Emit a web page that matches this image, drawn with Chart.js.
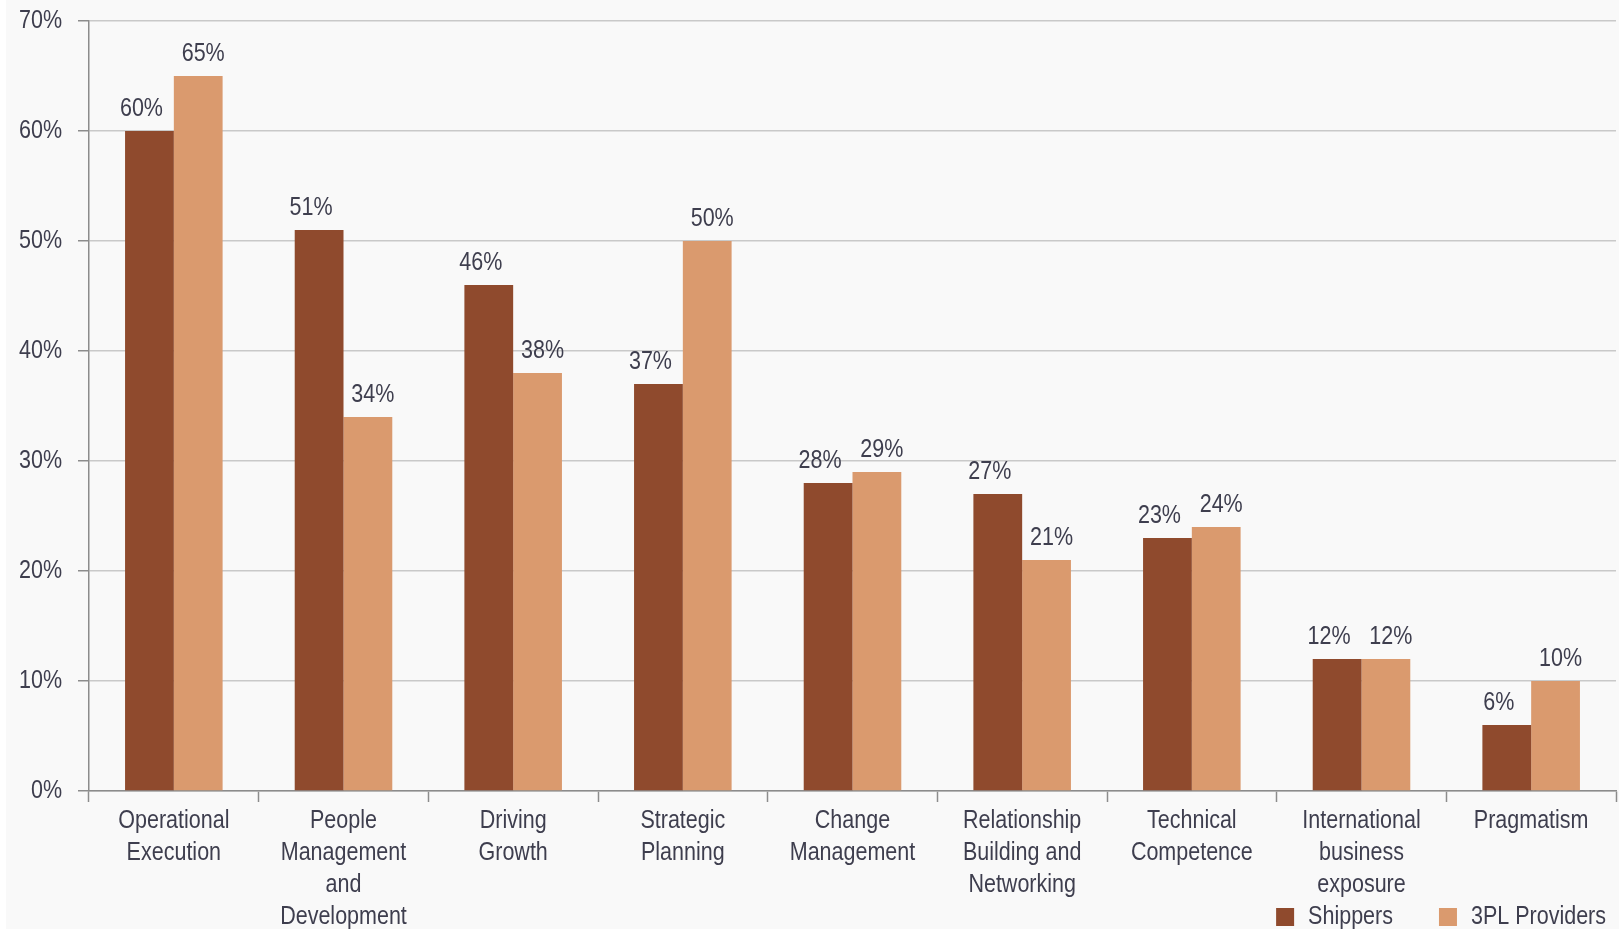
<!DOCTYPE html>
<html>
<head>
<meta charset="utf-8">
<script src="https://cdn.jsdelivr.net/npm/chart.js@4/dist/chart.umd.min.js"></script>
<style>
  html, body { margin: 0; padding: 0; background: #ffffff; }
  #wrap { position: relative; width: 1619px; height: 929px; }
  canvas { display: block; }
</style>
</head>
<body>
<div id="wrap"><canvas id="c" width="1619" height="929"></canvas></div>
<script>
// Leadership skills ranked as most important, by respondent group (% of respondents)
const categories = [
  ['Operational', 'Execution'],
  ['People', 'Management', 'and', 'Development'],
  ['Driving', 'Growth'],
  ['Strategic', 'Planning'],
  ['Change', 'Management'],
  ['Relationship', 'Building and', 'Networking'],
  ['Technical', 'Competence'],
  ['International', 'business', 'exposure'],
  ['Pragmatism']
];
const seriesNames = ['Shippers', '3PL Providers'];
const shippers = [60, 51, 46, 37, 28, 27, 23, 12, 6];
const providers = [65, 34, 38, 50, 29, 21, 24, 12, 10];
const yTicks = [0, 10, 20, 30, 40, 50, 60, 70];

const FONT_FAMILY = "'Liberation Sans', Arial, sans-serif";
const TEXT_SQUEEZE = 0.86;   // narrow, condensed-style lettering
const TEXT = '#3e3e4e';
const AXIS = '#8c8c8c';
const GRID = '#c9c9c9';
const DARK = '#8f4a2d';
const LIGHT = '#da9a6e';

// Condensed lettering: every text draw is squeezed horizontally around its anchor point
const condensedText = {
  id: 'condensedText',
  beforeInit(chart) {
    const ctx = chart.ctx;
    const fill = ctx.fillText.bind(ctx);
    ctx.fillText = function (text, x, y, maxWidth) {
      ctx.save();
      ctx.translate(x, y);
      ctx.scale(TEXT_SQUEEZE, 1);
      if (maxWidth !== undefined) fill(text, 0, 0, maxWidth / TEXT_SQUEEZE);
      else fill(text, 0, 0);
      ctx.restore();
    };
  }
};

// Page background: light grey panel with a thin white margin on the left
const backdrop = {
  id: 'backdrop',
  beforeDraw(chart) {
    const ctx = chart.ctx;
    ctx.save();
    ctx.fillStyle = '#ffffff';
    ctx.fillRect(0, 0, chart.width, chart.height);
    ctx.fillStyle = '#f9f9f9';
    ctx.fillRect(6, 0, chart.width - 6, chart.height);
    ctx.restore();
  }
};

// Percentage labels above each bar
const valueLabels = {
  id: 'valueLabels',
  afterDatasetsDraw(chart) {
    const ctx = chart.ctx;
    ctx.save();
    ctx.font = '25px ' + FONT_FAMILY;
    ctx.fillStyle = TEXT;
    ctx.textAlign = 'center';
    ctx.textBaseline = 'alphabetic';
    chart.data.datasets.forEach((ds, i) => {
      const meta = chart.getDatasetMeta(i);
      const dx = ds.labelShift || 0;
      meta.data.forEach((bar, j) => {
        ctx.fillText(ds.data[j] + '%', bar.x + dx, bar.y - 15);
      });
    });
    ctx.restore();
  }
};

// Legend in the lower right corner
const cornerLegend = {
  id: 'cornerLegend',
  afterDraw(chart) {
    const ctx = chart.ctx;
    ctx.save();
    ctx.font = '25px ' + FONT_FAMILY;
    ctx.textBaseline = 'alphabetic';
    ctx.textAlign = 'left';
    const box = 18, boxGap = 14, itemGap = 46;
    const items = chart.data.datasets.map(ds => ({
      label: ds.label, color: ds.backgroundColor,
      w: ctx.measureText(ds.label).width * TEXT_SQUEEZE
    }));
    let total = 0;
    items.forEach((it, k) => { total += box + boxGap + it.w + (k ? itemGap : 0); });
    let x = 1606 - total;
    items.forEach(it => {
      ctx.fillStyle = it.color;
      ctx.fillRect(x, 908, box, box);
      ctx.fillStyle = TEXT;
      ctx.fillText(it.label, x + box + boxGap, 924);
      x += box + boxGap + it.w + itemGap;
    });
    ctx.restore();
  }
};

new Chart(document.getElementById('c'), {
  type: 'bar',
  data: {
    labels: categories,
    datasets: [
      { label: seriesNames[0], data: shippers, backgroundColor: DARK, labelShift: -8,
        categoryPercentage: 0.575, barPercentage: 1.0 },
      { label: seriesNames[1], data: providers, backgroundColor: LIGHT, labelShift: 5,
        categoryPercentage: 0.575, barPercentage: 1.0 }
    ]
  },
  options: {
    responsive: false,
    animation: false,
    layout: { padding: { top: 21, right: 3, left: 0, bottom: 0 } },
    plugins: {
      legend: { display: false },
      tooltip: { enabled: false }
    },
    scales: {
      x: {
        offset: true,
        grid: { drawOnChartArea: false, drawTicks: true, tickLength: 11, tickColor: AXIS, tickWidth: 1.5, offset: true },
        border: { color: AXIS, width: 1.5 },
        ticks: {
          color: TEXT, autoSkip: false, maxRotation: 0, minRotation: 0, padding: 3,
          font: { family: FONT_FAMILY, size: 25, lineHeight: 1.28 }
        },
        afterFit(scale) {
          scale.height = 138;
          scale.paddingLeft = 0;
          scale.paddingRight = 0;
        }
      },
      y: {
        min: yTicks[0],
        max: yTicks[yTicks.length - 1],
        afterBuildTicks(scale) { scale.ticks = yTicks.map(v => ({ value: v })); },
        grid: { color: GRID, lineWidth: 1.5, tickLength: 11, tickColor: AXIS, tickWidth: 1.5 },
        border: { color: AXIS, width: 1.5 },
        ticks: {
          color: TEXT, padding: 16,
          font: { family: FONT_FAMILY, size: 25 },
          callback: v => v + '%'
        },
        afterFit(scale) {
          scale.width = 89;
          scale.paddingTop = 0;
          scale.paddingBottom = 0;
        }
      }
    }
  },
  plugins: [condensedText, backdrop, valueLabels, cornerLegend]
});
</script>
</body>
</html>
